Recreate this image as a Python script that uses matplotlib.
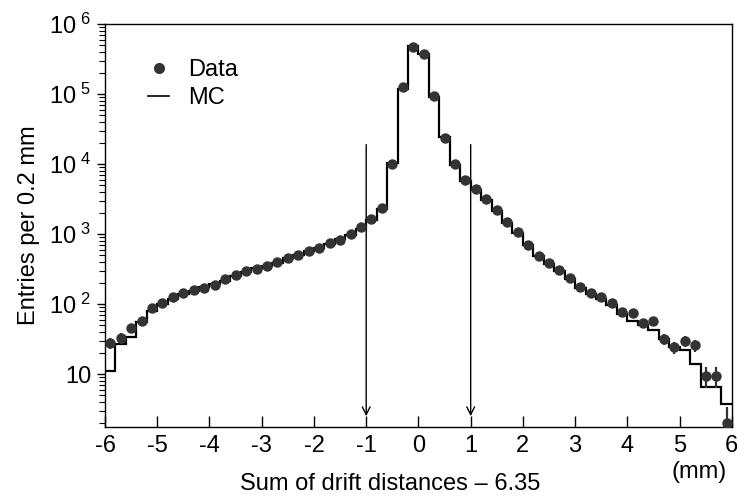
import numpy as np
import matplotlib
matplotlib.use("Agg")
from matplotlib import pyplot as plt
from matplotlib.lines import Line2D
from matplotlib.ticker import FixedLocator, LogLocator, NullFormatter

plt.rcParams["font.family"] = ["Liberation Sans", "DejaVu Sans"]
plt.rcParams["mathtext.fontset"] = "custom"
plt.rcParams["mathtext.rm"] = "Liberation Sans"
plt.rcParams["axes.unicode_minus"] = False

# bin edges of the histogram (0.2 mm bins)
bin_edges = np.round(np.arange(-6.0, 6.01, 0.2), 2)
bin_centres = (bin_edges[:-1] + bin_edges[1:]) / 2

data_counts = [
    28, 33, 45, 58, 88, 105, 125, 145, 160, 170,
    190, 225, 260, 300, 320, 355, 400, 460, 500, 580,
    630, 740, 830, 1000, 1250, 1650, 2350, 10000, 125000, 470000,
    375000, 93000, 24000, 10000, 6000, 4400, 3150, 2200, 1480, 1070,
    700, 490, 390, 305, 235, 175, 144, 125, 103, 77,
    74, 54, 57, 32, 24, 30, 26, 9.5, 9.5, 2,
]

mc_counts = [
    11, 27, 34, 55, 80, 100, 120, 140, 155, 175,
    195, 215, 250, 290, 330, 350, 390, 450, 510, 570,
    640, 730, 850, 980, 1200, 1600, 2300, 10500, 120000, 480000,
    380000, 90000, 24500, 9800, 5800, 4300, 3100, 2150, 1450, 1050,
    690, 480, 380, 300, 230, 170, 140, 118, 98, 72,
    58, 50, 42, 32, 24, 22, 14, 6.5, 6.5, 3.7,
]

cut_positions = [-1, 1]

data = np.array(data_counts, dtype=float)
data_err = np.sqrt(data)

fig = plt.figure(figsize=(7.37, 5.03), dpi=100)
ax = fig.add_axes([0.1425, 0.151, 0.8505, 0.801])

ax.stairs(mc_counts, bin_edges, baseline=None, color="black", linewidth=1.6, zorder=2)
ax.errorbar(bin_centres, data, yerr=data_err, fmt="o", color="#333333",
            markersize=6.5, elinewidth=1.6, capsize=0, zorder=3)

for xc in cut_positions:
    ax.annotate("", xy=(xc, 2.5), xytext=(xc, 1.9e4),
                arrowprops=dict(arrowstyle="->", color="black", lw=1.0,
                                mutation_scale=14, shrinkA=0, shrinkB=0))

ax.set_yscale("log")
ax.set_xlim(-6, 6)
ax.set_ylim(1.75, 1e6)

ax.xaxis.set_major_locator(FixedLocator(list(range(-6, 7))))
ax.set_xticklabels([str(v) for v in range(-6, 7)])
ax.tick_params(axis="x", direction="in", length=8, width=1, labelsize=17, pad=6)

major = [10, 100, 1000, 1e4, 1e5, 1e6]
ax.yaxis.set_major_locator(FixedLocator(major))
ax.set_yticklabels(["10", r"$\mathregular{10^{\ 2}}$", r"$\mathregular{10^{\ 3}}$",
                    r"$\mathregular{10^{\ 4}}$", r"$\mathregular{10^{\ 5}}$",
                    r"$\mathregular{10^{\ 6}}$"])
ax.yaxis.set_minor_locator(LogLocator(base=10, subs=np.arange(2, 10)))
ax.yaxis.set_minor_formatter(NullFormatter())
ax.tick_params(axis="y", which="major", direction="out", length=6, width=1, labelsize=17, pad=4)
ax.tick_params(axis="y", which="minor", direction="out", length=4, width=0.8)

for sp in ax.spines.values():
    sp.set_linewidth(1.0)

ax.set_ylabel("Entries per 0.2 mm", fontsize=17, labelpad=6)
ax.set_xlabel("Sum of drift distances \u2013 6.35", fontsize=17)
ax.xaxis.set_label_coords(0.455, -0.115)
ax.text(0.948, -0.112, "(mm)", transform=ax.transAxes, fontsize=17,
        ha="center", va="center")

handles = [
    Line2D([], [], marker="o", linestyle="none", color="#333333", markersize=7),
    Line2D([], [], color="black", linewidth=1.2),
]
ax.legend(handles, ["Data", "MC"], loc="upper left", frameon=False, fontsize=17,
          handlelength=0.9, handletextpad=0.8, labelspacing=0.25,
          bbox_to_anchor=(0.035, 0.965))

fig.savefig("out.png", dpi=100)
